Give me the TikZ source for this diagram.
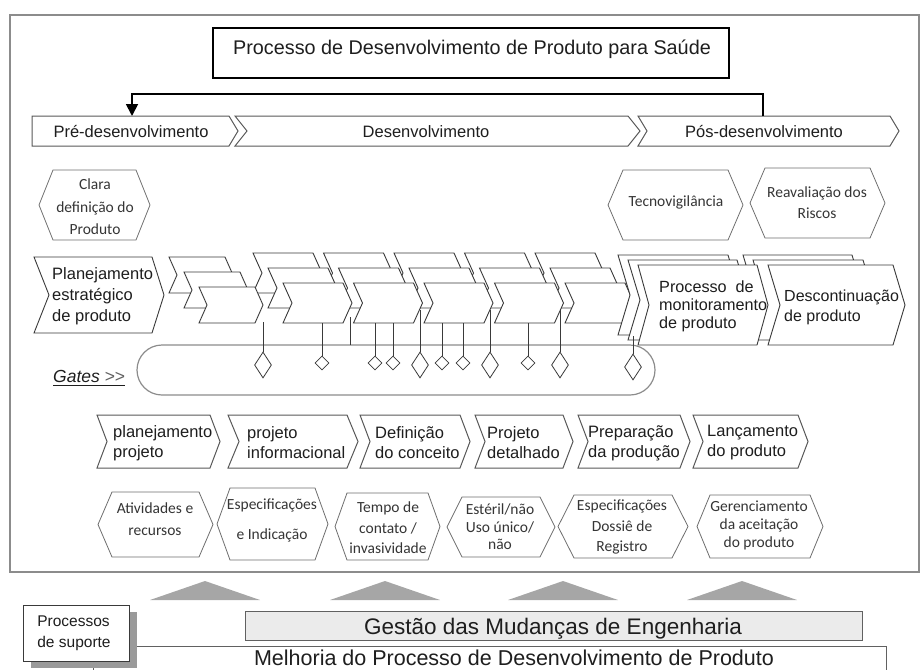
\documentclass[tikz,border=0pt]{standalone}
\usepackage{fontspec}
\setmainfont{Liberation Sans}
\newfontfamily\calib{Carlito}
\usetikzlibrary{arrows.meta,shapes.geometric}
\definecolor{framec}{HTML}{8C8C8C}
\definecolor{linec}{HTML}{3A3A3A}
\definecolor{hexc}{HTML}{6E6E6E}
\definecolor{txt}{HTML}{1E1E1E}
\definecolor{tri}{HTML}{A6A6A6}
\definecolor{gbox}{HTML}{EBEBEB}
\definecolor{shad}{HTML}{9A9A9A}
\newcommand\chev[5]{(#1,#2) -- ({#1+#3},#2) -- ({#1+#3+#5},{#2+#4/2}) -- ({#1+#3},{#2+#4}) -- (#1,{#2+#4}) -- ({#1+#5},{#2+#4/2}) -- cycle}
\newcommand\hexa[5]{(#1,{(#3+#4)/2}) -- ({#1+#5},#3) -- ({#2-#5},#3) -- (#2,{(#3+#4)/2}) -- ({#2-#5},#4) -- ({#1+#5},#4) -- cycle}
\tikzset{
  chv/.style={draw=linec, fill=white, line width=0.9pt},
  phs/.style={draw=linec!85, fill=white, line width=1pt},
  hex/.style={draw=hexc, fill=white, line width=0.8pt},
  phtxt/.style={font=\fontsize{16.5}{20}\selectfont, text=txt, inner sep=0},
  bigtxt/.style={font=\fontsize{16.5}{20}\selectfont, text=txt, align=left, inner sep=0},
  hextxt/.style={font=\calib\fontsize{15.5}{21}\selectfont, text=txt!90, align=center, inner sep=0},
  gatel/.style={draw=linec, line width=0.8pt},
  sdia/.style={diamond, draw=linec, fill=white, line width=0.8pt, minimum width=14pt, minimum height=14pt, inner sep=0},
  ldia/.style={diamond, draw=linec, fill=white, line width=0.8pt, minimum width=17pt, minimum height=26pt, inner sep=0},
  suptxt/.style={font=\fontsize{22.5}{26}\selectfont, text=txt, inner sep=0},
}
\begin{document}
\begin{tikzpicture}[x=1pt,y=-1pt]
\useasboundingbox (0,0) rectangle (920,669);
% outer frame
\draw[draw=framec, line width=1.6pt] (10,15) rectangle (919,572);
% title
\node[draw=black, line width=1.4pt, minimum width=516pt, minimum height=50pt, inner sep=0] (titlebox) at (471,53) {};
\node[font=\fontsize{19.8}{24}\selectfont, text=txt, anchor=base, inner sep=0] (title) at (472,55) {Processo de Desenvolvimento de Produto para Saúde};
% phases
\draw[phs] (32,116) -- (229,116) -- (238,131) -- (229,146) -- (32,146) -- cycle;
\node[phtxt, anchor=base] (pre) at (131,137) {Pré-desenvolvimento};
\draw[phs] \chev{235}{116}{393}{30}{12};
\node[phtxt, anchor=base] (dev) at (426,137) {Desenvolvimento};
\draw[phs] \chev{638}{116}{252}{30}{9};
\node[phtxt, anchor=base] (pos) at (764,137) {Pós-desenvolvimento};
\coordinate (pretop) at (132,116);
\coordinate (postop) at (763,116);
\draw[line width=1.8pt, -{Triangle[length=12pt,width=12pt]}] (postop) -- (763,94) -| (pretop);
% top hexagons
\draw[hex] \hexa{39}{150}{170}{240}{14};
\node[hextxt, font=\calib\fontsize{15.5}{22.5}\selectfont] (clara) at (95,207) {Clara\\definição do\\Produto};
\draw[hex] \hexa{608}{743}{170}{240}{15};
\node[hextxt] (tecno) at (676,202) {Tecnovigilância};
\draw[hex] \hexa{750}{885}{168}{238}{15};
\node[hextxt] (reav) at (817,203) {Reavaliação dos\\Riscos};
% gates pill
\draw[draw=framec, line width=1.2pt, rounded corners=25pt] (137,345) rectangle (655,395);
% big left chevron
\draw[chv] (34,257) -- (152,257) -- (164,295) -- (152,333) -- (34,333) -- (49,295) -- cycle;
\node[bigtxt, font=\fontsize{16.5}{21}\selectfont, anchor=west] (plan) at (52,296) {Planejamento\\estratégico\\de produto};
% small chevrons: back row
\draw[chv] \chev{169}{257}{56}{36}{8};
\foreach \x in {283,353.5,424,494.5,565} { \draw[chv] \chev{\x-30}{253}{60}{40}{9}; }
% middle row
\draw[chv] \chev{184}{272}{56}{36}{8};
\foreach \x in {283,353.5,424,494.5,565} { \draw[chv] \chev{\x-15}{268}{60}{40}{9}; }
% front row
\draw[chv] \chev{199}{287}{56}{36}{8};
\foreach \x in {283,353.5,424,494.5,565} { \draw[chv] \chev{\x}{283}{60}{40}{9}; }
% post-development stacks
\draw[chv] \chev{743}{255}{109}{80}{12};
\draw[chv] \chev{753}{260}{110}{80}{12};
\draw[chv] \chev{618}{255}{110}{80}{12};
\draw[chv] \chev{628}{260}{109}{80}{12};
\draw[chv] \chev{638}{265}{119}{80}{11};
\draw[chv] \chev{768}{265}{125}{80}{12};
\node[bigtxt, font=\fontsize{16.2}{18}\selectfont, anchor=west] (mon) at (659,306) {Processo\ \ de\\monitoramento\\de produto};
\node[bigtxt, font=\fontsize{16}{20}\selectfont, anchor=west] (desc) at (784,307) {Descontinuação\\de produto};
% gates
\node[ldia] (g1) at (263,365) {};
\node[sdia] (g2) at (322,363) {};
\node[sdia] (g3) at (375,363) {};
\node[sdia] (g4) at (393,363) {};
\node[ldia] (g5) at (420,365) {};
\node[sdia] (g6) at (442,363) {};
\node[sdia] (g7) at (463,363) {};
\node[ldia] (g8) at (490,365) {};
\node[sdia] (g9) at (528,363) {};
\node[ldia] (g10) at (560,365) {};
\node[ldia] (g11) at (633,367) {};
\coordinate (s1) at (263,322);
\coordinate (s2) at (322,323);
\coordinate (s3) at (375,323);
\coordinate (s4) at (393,323);
\coordinate (s5) at (420,310);
\coordinate (s6) at (442,323);
\coordinate (s7) at (463,323);
\coordinate (s8) at (490,310);
\coordinate (s9) at (528,323);
\coordinate (s10) at (560,310);
\coordinate (s11) at (633,336);
\coordinate (sx) at (350,317);
\coordinate (ex) at (350,345);
\foreach \i in {1,...,11} { \draw[gatel] (s\i) -- (g\i); }
\draw[gatel] (sx) -- (ex);
\node[font=\fontsize{17.5}{20}\selectfont, text=txt, anchor=base west, inner sep=0] (gates) at (53,382) {\textit{Gates} {\color{txt!70}{>}{>}}};
\draw[line width=1.1pt, txt] ([yshift=-3.5pt]gates.base west) -- ([yshift=-3.5pt]gates.base east);
% bottom chevrons
\draw[phs] \chev{97}{415}{113}{53}{10};
\node[bigtxt, anchor=west] (b1) at (113,443) {planejamento\\projeto};
\draw[phs] \chev{228}{415}{119}{53}{11};
\node[bigtxt, anchor=west] (b2) at (247,443) {projeto\\informacional};
\draw[phs] \chev{360}{415}{100}{53}{10};
\node[bigtxt, anchor=west] (b3) at (375,443) {Definição\\do conceito};
\draw[phs] \chev{475}{415}{88}{53}{10};
\node[bigtxt, anchor=west] (b4) at (487,443) {Projeto\\detalhado};
\draw[phs] \chev{578}{415}{102}{53}{10};
\node[bigtxt, anchor=west] (b5) at (588,443) {Preparação\\da produção};
\draw[phs] \chev{693}{415}{105}{53}{10};
\node[bigtxt, anchor=west] (b6) at (707,443) {Lançamento\\do produto};
% bottom hexagons
\draw[hex] \hexa{98}{213}{492}{557}{14};
\node[hextxt, font=\calib\fontsize{15.5}{22}\selectfont] (h1) at (155,519) {Atividades e\\recursos};
\draw[hex] \hexa{217}{328}{488}{560}{13};
\node[hextxt, font=\calib\fontsize{15.5}{30}\selectfont] (h2) at (272,520) {Especificações\\e Indicação};
\draw[hex] \hexa{335}{440}{493}{560}{12};
\node[hextxt, font=\calib\fontsize{15.5}{20.5}\selectfont] (h3) at (388,528) {Tempo de\\contato /\\invasividade};
\draw[hex] \hexa{447}{555}{497}{557}{15};
\node[hextxt, font=\calib\fontsize{15.5}{17.5}\selectfont] (h4) at (500,527) {Estéril/não\\Uso único/\\não};
\draw[hex] \hexa{558}{688}{495}{558}{16};
\node[hextxt, font=\calib\fontsize{15.5}{20.5}\selectfont] (h5) at (622,527) {Especificações\\Dossiê de\\Registro};
\draw[hex] \hexa{697}{823}{495}{558}{13};
\node[hextxt, font=\calib\fontsize{15.5}{18}\selectfont] (h6) at (759,525) {Gerenciamento\\da aceitação\\do produto};
% support processes
\foreach \c in {205,385,563,742} { \fill[tri] (\c-55,600) -- (\c,581) -- (\c+55,600) -- cycle; }
\draw[draw=linec!80, line width=0.9pt] (93,690) -- (93,646) -- (886,646) -- (886,690);
\node[suptxt, font=\fontsize{21.5}{26}\selectfont, anchor=base] (melh) at (514,665) {Melhoria do Processo de Desenvolvimento de Produto};
\node[draw=linec!80, fill=gbox, line width=0.9pt, minimum width=617pt, minimum height=29pt, inner sep=0] (gestbox) at (553.5,625.5) {};
\node[suptxt, anchor=base] (gest) at (553,634) {Gestão das Mudanças de Engenharia};
\fill[shad] (31,612) rectangle (137,668);
\node[draw=linec, fill=white, line width=0.9pt, minimum width=106pt, minimum height=56pt, inner sep=0] (procbox) at (76,633) {};
\node[font=\fontsize{15.5}{21}\selectfont, text=txt, align=left, inner sep=0] (proc) at (74,633) {Processos\\de suporte};
\end{tikzpicture}
\end{document}
